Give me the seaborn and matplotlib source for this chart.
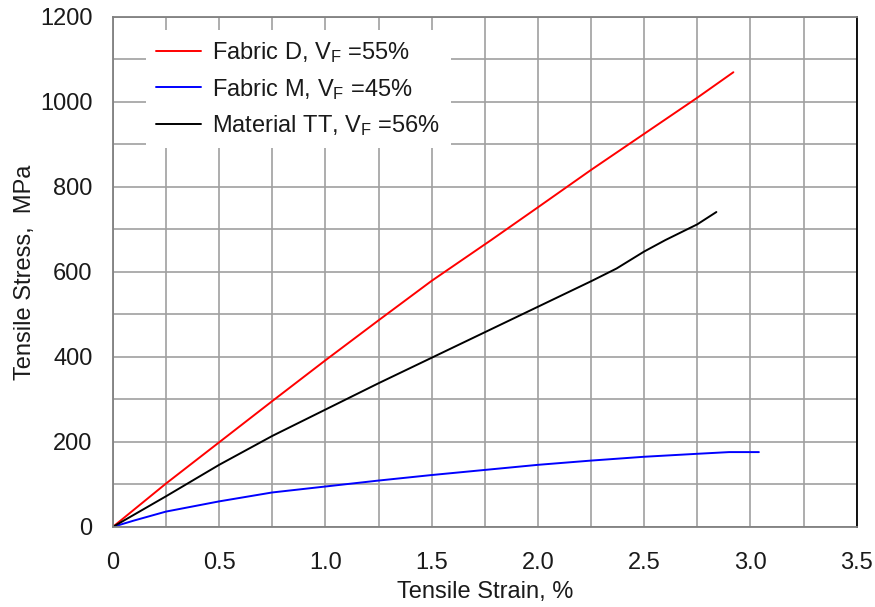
import matplotlib
matplotlib.use("Agg")
import matplotlib.pyplot as plt
import numpy as np
import pandas as pd
import seaborn as sns

# Stress-strain curves (strain in %, stress in MPa)
strain_d = [0, 0.25, 0.5, 0.75, 1.0, 1.25, 1.5, 1.78, 2.0, 2.25, 2.5, 2.75, 2.92]
stress_d = [0, 102, 199, 296, 392, 486, 579, 675, 752, 840, 925, 1010, 1070]

strain_m = [0, 0.1, 0.25, 0.5, 0.75, 1.0, 1.25, 1.5, 1.75, 2.0, 2.25, 2.5, 2.75, 2.9, 3.04]
stress_m = [0, 15, 36, 60, 81, 95, 109, 122, 134, 146, 156, 165, 172, 176, 176]

strain_t = [0, 0.25, 0.5, 0.75, 1.0, 1.25, 1.5, 1.75, 2.0, 2.25, 2.37, 2.5, 2.6, 2.75, 2.84]
stress_t = [0, 72, 146, 214, 276, 338, 398, 458, 518, 578, 608, 648, 675, 712, 741]

series_names = [
    "Fabric D, V$_\\mathrm{F}$ =55%",
    "Fabric M, V$_\\mathrm{F}$ =45%",
    "Material TT, V$_\\mathrm{F}$ =56%",
]
series_colors = ["#ff0000", "#0000ff", "#000000"]

x_ticks = [0, 0.5, 1.0, 1.5, 2.0, 2.5, 3.0, 3.5]
x_tick_labels = ["0", "0.5", "1.0", "1.5", "2.0", "2.5", "3.0", "3.5"]
y_ticks = [0, 200, 400, 600, 800, 1000, 1200]

frames = []
for name, xs, ys in zip(series_names,
                        [strain_d, strain_m, strain_t],
                        [stress_d, stress_m, stress_t]):
    frames.append(pd.DataFrame({"strain": xs, "stress": ys, "series": name}))
df = pd.concat(frames, ignore_index=True)

sns.set_style("white")
plt.rcParams["font.family"] = ["Liberation Sans", "DejaVu Sans"]
plt.rcParams["mathtext.fontset"] = "custom"
plt.rcParams["mathtext.rm"] = "Liberation Sans"
plt.rcParams["mathtext.it"] = "Liberation Sans:italic"

FS = 17
TXT = "#1a1a1a"

fig = plt.figure(figsize=(8.75, 6.07), dpi=100)
ax = fig.add_axes([0.129, 0.132, 0.850, 0.840])

sns.lineplot(data=df, x="strain", y="stress", hue="series",
             palette=dict(zip(series_names, series_colors)),
             hue_order=series_names, sort=False, estimator=None,
             linewidth=1.4, ax=ax)

ax.set_xlim(0, 3.5)
ax.set_ylim(0, 1200)
ax.set_xticks(x_ticks)
ax.set_xticklabels(x_tick_labels)
ax.set_yticks(y_ticks)
ax.set_xticks(np.arange(0, 3.51, 0.25), minor=True)
ax.set_yticks(np.arange(0, 1201, 100), minor=True)

ax.grid(True, which="both", color="#a0a0a0", linewidth=1.2)
ax.set_axisbelow(True)

for side in ["left", "bottom", "top"]:
    ax.spines[side].set_color("#808080")
    ax.spines[side].set_linewidth(1.3)
ax.spines["right"].set_color("#000000")
ax.spines["right"].set_linewidth(1.3)

ax.tick_params(axis="both", which="major", direction="out", length=6.5,
               width=1.2, color="#808080", labelsize=FS, labelcolor=TXT)
ax.tick_params(axis="x", which="minor", direction="out", length=4.3,
               width=1.2, color="#808080")
ax.tick_params(axis="y", which="minor", direction="out", length=2.5,
               width=1.2, color="#808080")
ax.tick_params(axis="x", which="major", pad=11.5)
ax.tick_params(axis="y", which="major", pad=8)

ax.set_xlabel("Tensile Strain, %", fontsize=FS, color=TXT, labelpad=5)
ax.set_ylabel("Tensile Stress,  MPa", fontsize=FS, color=TXT, labelpad=3)

leg = ax.legend(loc="upper left", bbox_to_anchor=(0.044, 0.975),
                frameon=True, facecolor="white", edgecolor="none",
                framealpha=1.0, fontsize=FS, handlelength=1.9,
                handletextpad=0.45, labelspacing=0.48, borderpad=0.45,
                borderaxespad=0.0, fancybox=False)
for t in leg.get_texts():
    t.set_color(TXT)

fig.savefig("out.png", dpi=100, facecolor="white")
